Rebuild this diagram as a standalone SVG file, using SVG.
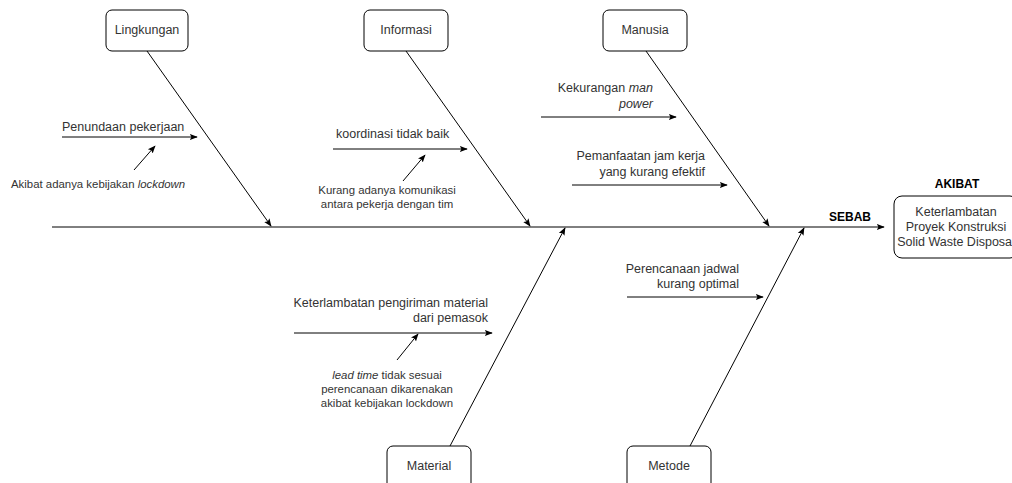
<svg xmlns="http://www.w3.org/2000/svg" width="1012" height="483" viewBox="0 0 1012 483">
<style>
text{font-family:"Liberation Sans",Arial,sans-serif;font-size:12.5px;fill:#333}
.s{font-size:11.4px}
.b{font-weight:bold;fill:#000;font-size:12px}
.box{fill:#fff;stroke:#000;stroke-width:1}
.ln{stroke:#000;stroke-width:1;fill:none;marker-end:url(#ah)}
.it{font-style:italic}
</style>
<defs>
<marker id="ah" viewBox="0 0 10 10" refX="9" refY="5" markerWidth="8" markerHeight="8" markerUnits="userSpaceOnUse" orient="auto">
<path d="M0,1 L10,5 L0,9 L2,5 Z" fill="#000"/>
</marker>
</defs>
<rect width="1012" height="483" fill="#fff"/>
<g id="connectors">
<line class="ln" x1="52" y1="227" x2="884" y2="227"/>
<line class="ln" x1="147" y1="51" x2="271" y2="226"/>
<line class="ln" x1="406" y1="51" x2="530" y2="226"/>
<line class="ln" x1="646" y1="51" x2="769" y2="226"/>
<line class="ln" x1="450" y1="446" x2="565" y2="228"/>
<line class="ln" x1="690" y1="446" x2="804" y2="228"/>
<line class="ln" x1="62" y1="137" x2="197" y2="137"/>
<line class="ln" x1="134" y1="170" x2="155" y2="146"/>
<line class="ln" x1="333" y1="149" x2="467" y2="149"/>
<line class="ln" x1="403" y1="181" x2="425" y2="155"/>
<line class="ln" x1="541" y1="117" x2="676" y2="117"/>
<line class="ln" x1="572" y1="185" x2="727" y2="185"/>
<line class="ln" x1="294" y1="333" x2="492" y2="333"/>
<line class="ln" x1="397" y1="360" x2="418" y2="334"/>
<line class="ln" x1="627" y1="297" x2="763" y2="297"/>
</g>
<g id="lingkungan"><rect class="box" x="106" y="10" width="82" height="41" rx="6"/><text x="147" y="34" text-anchor="middle">Lingkungan</text></g>
<g id="informasi"><rect class="box" x="364" y="10" width="84" height="41" rx="6"/><text x="406" y="34" text-anchor="middle">Informasi</text></g>
<g id="manusia"><rect class="box" x="603" y="10" width="84" height="41" rx="6"/><text x="645" y="34" text-anchor="middle">Manusia</text></g>
<g id="material"><rect class="box" x="387" y="446" width="84" height="45" rx="6"/><text x="429" y="470" text-anchor="middle">Material</text></g>
<g id="metode"><rect class="box" x="627" y="446" width="84" height="45" rx="6"/><text x="669" y="470" text-anchor="middle">Metode</text></g>
<g id="akibat"><text class="b" x="957" y="188" text-anchor="middle">AKIBAT</text><rect class="box" x="894" y="196" width="124" height="62" rx="8"/>
<text x="956" y="216" text-anchor="middle">Keterlambatan</text><text x="956" y="231" text-anchor="middle">Proyek Konstruksi</text><text x="956" y="246" text-anchor="middle">Solid Waste Disposal</text></g>
<g id="sebab"><text class="b" x="850" y="221" text-anchor="middle">SEBAB</text></g>
<g id="labels">
<text x="62" y="131">Penundaan pekerjaan</text>
<text class="s" x="11" y="188">Akibat adanya kebijakan <tspan class="it">lockdown</tspan></text>
<text x="336" y="138">koordinasi tidak baik</text>
<text class="s" x="387" y="194" text-anchor="middle">Kurang adanya komunikasi</text>
<text class="s" x="387" y="208" text-anchor="middle">antara pekerja dengan tim</text>
<text x="653" y="92" text-anchor="end">Kekurangan <tspan class="it">man</tspan></text>
<text x="653" y="108" text-anchor="end" class="it">power</text>
<text x="705" y="160" text-anchor="end">Pemanfaatan jam kerja</text>
<text x="705" y="176" text-anchor="end">yang kurang efektif</text>
<text x="488" y="307" text-anchor="end">Keterlambatan pengiriman material</text>
<text x="488" y="322" text-anchor="end">dari pemasok</text>
<text class="s" x="387" y="379" text-anchor="middle"><tspan class="it">lead time</tspan> tidak sesuai</text>
<text class="s" x="387" y="393" text-anchor="middle">perencanaan dikarenakan</text>
<text class="s" x="387" y="407" text-anchor="middle">akibat kebijakan lockdown</text>
<text x="739" y="273" text-anchor="end">Perencanaan jadwal</text>
<text x="739" y="288" text-anchor="end">kurang optimal</text>
</g>
</svg>
